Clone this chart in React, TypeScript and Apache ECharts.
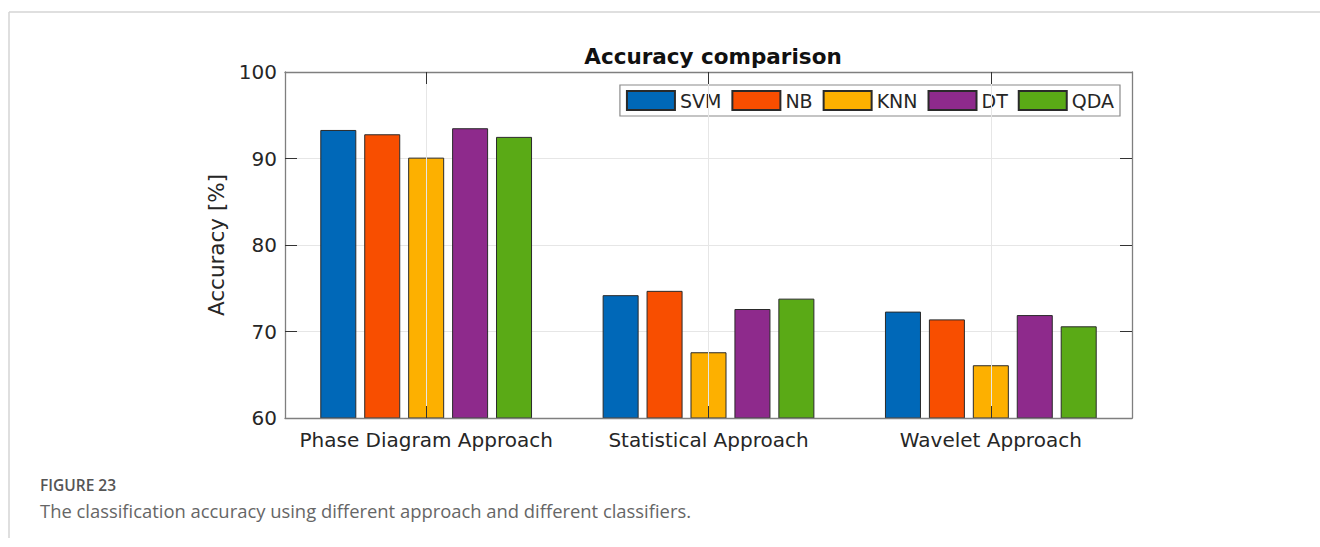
import React, { useEffect, useRef } from "react";
import * as echarts from "echarts";

const categories = ["Phase Diagram Approach", "Statistical Approach", "Wavelet Approach"];
const classifiers = ["SVM", "NB", "KNN", "DT", "QDA"];
const svm = [93.3, 74.2, 72.3];
const nb = [92.8, 74.7, 71.4];
const knn = [90.1, 67.6, 66.1];
const dt = [93.5, 72.6, 71.9];
const qda = [92.5, 73.8, 70.6];
const seriesValues = [svm, nb, knn, dt, qda];
const colors = ["#0068B8", "#F84E00", "#FDB000", "#8E2A8C", "#5AAA16"];
const yTicks = { min: 60, max: 100, interval: 10 };

export default function App() {
  const ref = useRef<HTMLDivElement>(null);
  useEffect(() => {
    if (!ref.current) return;
    const chart = echarts.init(ref.current, null, { renderer: "svg" });
    const axisColor = "#7f7f7f";
    const textColor = "#262626";
    const font = "DejaVu Sans, Verdana, sans-serif";
    const bars = classifiers.map((name, i) => ({
      name,
      type: "bar",
      data: seriesValues[i],
      xAxisIndex: 0,
      yAxisIndex: 0,
      barCategoryGap: "25%",
      barGap: "22%",
      z: 2,
      itemStyle: { color: colors[i], borderColor: "#2a2a2a", borderWidth: 1 },
    }));
    chart.setOption({
      animation: false,
      backgroundColor: "#ffffff",
      title: {
        text: "Accuracy comparison",
        left: 708,
        textAlign: "center",
        top: 40,
        textStyle: { fontFamily: font, fontSize: 21.5, fontWeight: "bold", color: "#111" },
      },
      legend: {
        data: classifiers,
        right: 200,
        top: 85,
        orient: "horizontal",
        itemWidth: 48,
        itemHeight: 19,
        itemGap: 10,
        padding: [5, 6, 5, 6],
        borderColor: "#8a8a8a",
        borderWidth: 1.2,
        backgroundColor: "#ffffff",
        textStyle: { fontFamily: font, fontSize: 19, color: textColor },
        icon: "rect",
        selectedMode: false,
      },
      grid: { left: 285, right: 188, top: 72, bottom: 129, containLabel: false },
      xAxis: [
        {
          type: "category",
          data: categories,
          position: "bottom",
          z: 10,
          axisLine: { show: true, lineStyle: { color: axisColor, width: 1.3 } },
          axisTick: { show: true, inside: true, alignWithLabel: true, length: 12, lineStyle: { color: "#333" } },
          axisLabel: { interval: 0, fontFamily: font, fontSize: 20, color: textColor, margin: 12 },
          splitLine: { show: false },
        },
        {
          type: "category",
          data: categories,
          position: "top",
          z: 10,
          axisLine: { show: true, lineStyle: { color: axisColor, width: 1.3 } },
          axisTick: { show: true, inside: true, alignWithLabel: true, length: 12, lineStyle: { color: "#333" } },
          axisLabel: { show: false },
          splitLine: { show: false },
        },
      ],
      yAxis: [
        {
          type: "value",
          min: yTicks.min,
          max: yTicks.max,
          interval: yTicks.interval,
          position: "left",
          name: "Accuracy [%]",
          nameLocation: "middle",
          nameGap: 56,
          nameTextStyle: { fontFamily: font, fontSize: 21.5, color: textColor },
          axisLine: { show: true, lineStyle: { color: axisColor, width: 1.3 } },
          axisTick: { show: true, inside: true, length: 12, lineStyle: { color: "#333" } },
          axisLabel: { fontFamily: font, fontSize: 20, color: textColor, margin: 8 },
          splitLine: { show: true, lineStyle: { color: "#e6e6e6", width: 1 } },
        },
        {
          type: "value",
          min: yTicks.min,
          max: yTicks.max,
          interval: yTicks.interval,
          position: "right",
          axisLine: { show: true, lineStyle: { color: axisColor, width: 1.3 } },
          axisTick: { show: true, inside: true, length: 12, lineStyle: { color: "#333" } },
          axisLabel: { show: false },
          splitLine: { show: false },
        },
      ],
      graphic: [
        { type: "line", shape: { x1: 9, y1: 12, x2: 1320, y2: 12 }, style: { stroke: "#d4d4d4", lineWidth: 1.5 } },
        { type: "line", shape: { x1: 9, y1: 12, x2: 9, y2: 538 }, style: { stroke: "#d4d4d4", lineWidth: 1.5 } },
        {
          type: "text",
          left: 40,
          top: 477,
          style: { text: "FIGURE 23", fontFamily: "Open Sans, Noto Sans, sans-serif", fontSize: 15.5, fontWeight: 600, fill: "#555" },
        },
        {
          type: "text",
          left: 40,
          top: 501,
          style: {
            text: "The classification accuracy using different approach and different classifiers.",
            fontFamily: "Open Sans, Noto Sans, sans-serif",
            fontSize: 18.4,
            fill: "#666",
          },
        },
      ],
      series: [
        {
          name: "_grid",
          type: "line",
          data: [],
          xAxisIndex: 0,
          yAxisIndex: 0,
          z: 1,
          silent: true,
          markLine: {
            silent: true,
            symbol: "none",
            label: { show: false },
            lineStyle: { color: "#e6e6e6", type: "solid", width: 1 },
            data: categories.map((c) => ({ xAxis: c })),
          },
        },
        ...bars,
      ],
    });
    return () => chart.dispose();
  }, []);
  return <div ref={ref} style={{ position: "absolute", left: 0, top: 0, width: 1320, height: 547 }} />;
}
